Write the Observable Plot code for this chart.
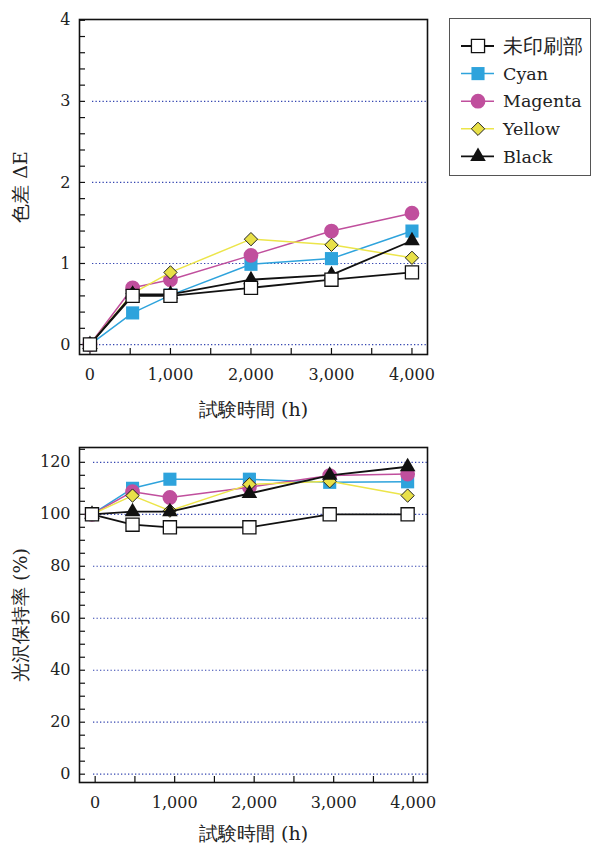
<!DOCTYPE html>
<html><head><meta charset="utf-8">
<script src="https://cdn.jsdelivr.net/npm/d3@7"></script>
<script src="https://cdn.jsdelivr.net/npm/@observablehq/plot@0.6"></script>
<style>
body{margin:0;background:#fff;font-family:"DejaVu Serif";}
#wrap{position:relative;width:592px;height:845px;overflow:hidden}
#top{position:absolute;left:0;top:0}
#bot{position:absolute;left:0;top:425px}
#legend{position:absolute;left:449px;top:18px;width:142px;height:158px;border:1.3px solid #555;box-sizing:border-box;background:#fff}
svg{overflow:visible}
</style></head><body>
<div id="wrap"><div id="top"></div><div id="bot"></div><div id="legend"></div></div>
<script>
// ---- data ----
const seriesNames = ["未印刷部", "Cyan", "Magenta", "Yellow", "Black"];
const hoursTop = [0, 530, 1000, 2000, 3000, 4000];
const hoursBottom = [-40, 470, 940, 1940, 2950, 3930];
const deltaE_unprinted = [0.0, 0.60, 0.60, 0.70, 0.80, 0.89];
const deltaE_cyan      = [0.0, 0.39, 0.61, 0.99, 1.06, 1.40];
const deltaE_magenta   = [0.0, 0.70, 0.80, 1.10, 1.40, 1.62];
const deltaE_yellow    = [0.0, 0.63, 0.89, 1.30, 1.23, 1.07];
const deltaE_black     = [0.0, 0.62, 0.62, 0.80, 0.86, 1.28];
const gloss_unprinted = [100, 96, 95, 95, 100, 100];
const gloss_cyan      = [100, 110, 113.5, 113.5, 112.3, 112.5];
const gloss_magenta   = [100, 108.7, 106.5, 110.4, 114.9, 115.5];
const gloss_yellow    = [100, 107.2, 101.4, 111.5, 112.7, 107.2];
const gloss_black     = [100, 101, 101, 108, 115, 118.3];
const xTickValues = [0, 1000, 2000, 3000, 4000];
const deltaETicks = [0, 1, 2, 3, 4];
const deltaEGrid = [0, 1, 2, 3];
const glossTicks = [0, 20, 40, 60, 80, 100, 120];
const xTitle = "試験時間 (h)";
const yTitleTop = "色差 ΔE";
const yTitleBottom = "光沢保持率 (%)";

// ---- styles ----
const styles = {
  "未印刷部": {line: "#111", lw: 1.8, symbol: "square", r: 7.4, fill: "#fff", stroke: "#111", sw: 1.3, d3sym: d3.symbolSquare},
  "Cyan":    {line: "#2ea3dc", lw: 1.5, symbol: "square", r: 7.4, fill: "#2ea3dc", stroke: "none", sw: 0, d3sym: d3.symbolSquare},
  "Magenta": {line: "#c04f9d", lw: 1.5, symbol: "circle", r: 7.4, fill: "#c04f9d", stroke: "none", sw: 0, d3sym: d3.symbolCircle},
  "Yellow":  {line: "#ece54a", lw: 1.5, symbol: "diamond2", r: 6.0, fill: "#e8e048", stroke: "#222", sw: 1, d3sym: d3.symbolDiamond2},
  "Black":   {line: "#111", lw: 1.8, symbol: "triangle", r: 5.8, fill: "#111", stroke: "none", sw: 0, d3sym: d3.symbolTriangle}
};
const drawOrder = ["Cyan", "Magenta", "Yellow", "Black", "未印刷部"];
const font = "DejaVu Serif";

function rows(hours, arrays) {
  const out = [];
  seriesNames.forEach((s, i) => hours.forEach((h, j) => out.push({series: s, x: h, y: arrays[i][j]})));
  return out;
}
const topRows = rows(hoursTop, [deltaE_unprinted, deltaE_cyan, deltaE_magenta, deltaE_yellow, deltaE_black]);
const botRows = rows(hoursBottom, [gloss_unprinted, gloss_cyan, gloss_magenta, gloss_yellow, gloss_black]);

function seriesMarks(data) {
  const m = [];
  for (const s of drawOrder) {
    const st = styles[s];
    const d = data.filter(r => r.series === s);
    m.push(Plot.line(d, {x: "x", y: "y", stroke: st.line, strokeWidth: st.lw}));
    m.push(Plot.dot(d, {x: "x", y: "y", symbol: () => st.symbol, r: st.r, fill: st.fill, stroke: st.stroke, strokeWidth: st.sw}));
  }
  return m;
}

function chart({data, width, height, margin, xDomain, yDomain, yTicks, grid, yMinor, xMinor, yTitle, gridInset, xTitleDy}) {
  const fw = width - margin.left - margin.right;
  const fh = height - margin.top - margin.bottom;
  return Plot.plot({
    width, height,
    marginLeft: margin.left, marginRight: margin.right, marginTop: margin.top, marginBottom: margin.bottom,
    style: {fontFamily: font, fontSize: "16px", color: "#222", background: "transparent"},
    x: {domain: xDomain},
    y: {domain: yDomain},
    marks: [
      Plot.ruleY(grid, {y: d => d, stroke: "#3344b0", strokeWidth: 1.2, strokeDasharray: "1.3,2.2", insetLeft: gridInset}),
      Plot.tickY(yMinor, {y: d => d, stroke: "#111", strokeWidth: 1.2, insetRight: fw - 6}),
      Plot.tickX(xMinor, {x: d => d, stroke: "#111", strokeWidth: 1.2, insetTop: fh - 6}),
      ...seriesMarks(data),
      Plot.frame({stroke: "#111", strokeWidth: 1.6}),
      Plot.axisY(yTicks, {tickSize: 0, tickPadding: 9, fontSize: 16, fill: "#222", fontFamily: font, tickFormat: d => String(d), label: null}),
      Plot.axisX(xTickValues, {tickSize: 0, tickPadding: 14, fontSize: 16, fill: "#222", fontFamily: font, tickFormat: d3.format(","), label: null}),
      Plot.text([xTitle], {text: d => d, frameAnchor: "bottom", dy: xTitleDy, lineAnchor: "middle", textAnchor: "middle", fontSize: 19, fontFamily: font, fill: "#222"}),
      Plot.text([yTitle], {text: d => d, frameAnchor: "left", dx: -59, rotate: -90, lineAnchor: "middle", textAnchor: "middle", fontSize: 19, fontFamily: font, fill: "#222"})
    ]
  });
}

const xMinorTicks = d3.range(0, 4001, 500);
document.getElementById("top").append(chart({
  data: topRows, width: 440, height: 425,
  margin: {left: 79, right: 13, top: 19, bottom: 71},
  xDomain: [-130, 4193], yDomain: [-0.123, 4.01],
  yTicks: deltaETicks, grid: deltaEGrid,
  yMinor: d3.range(0, 4.001, 0.2).map(v => +v.toFixed(1)), xMinor: xMinorTicks,
  yTitle: yTitleTop, gridInset: 13, xTitleDy: 55
}));
document.getElementById("bot").append(chart({
  data: botRows, width: 440, height: 420,
  margin: {left: 79, right: 13, top: 22, bottom: 63},
  xDomain: [-197, 4180], yDomain: [-3.2, 125.7],
  yTicks: glossTicks, grid: glossTicks,
  yMinor: d3.range(0, 126, 5), xMinor: xMinorTicks,
  yTitle: yTitleBottom, gridInset: 14, xTitleDy: 51
}));

// ---- legend ----
const lg = d3.select("#legend").append("svg").attr("width", 140).attr("height", 156);
seriesNames.forEach((s, i) => {
  const st = styles[s];
  const y = 27 + i * 27.6;
  const g = lg.append("g").attr("transform", `translate(0,${y})`);
  g.append("line").attr("x1", 11).attr("x2", 44).attr("y1", 0).attr("y2", 0).attr("stroke", st.line).attr("stroke-width", st.lw);
  g.append("path").attr("transform", "translate(28,0)").attr("d", d3.symbol(st.d3sym, Math.PI * st.r * st.r)())
    .attr("fill", st.fill).attr("stroke", st.stroke).attr("stroke-width", st.sw);
  const cjk = /[\u3000-\u9fff]/.test(s);
  g.append("text").attr("x", 53).attr("y", 0).attr("dy", "0.35em").attr("font-family", font)
    .attr("font-size", cjk ? 19.5 : 17.5).attr("fill", "#222").text(s);
});
</script>
</body></html>
